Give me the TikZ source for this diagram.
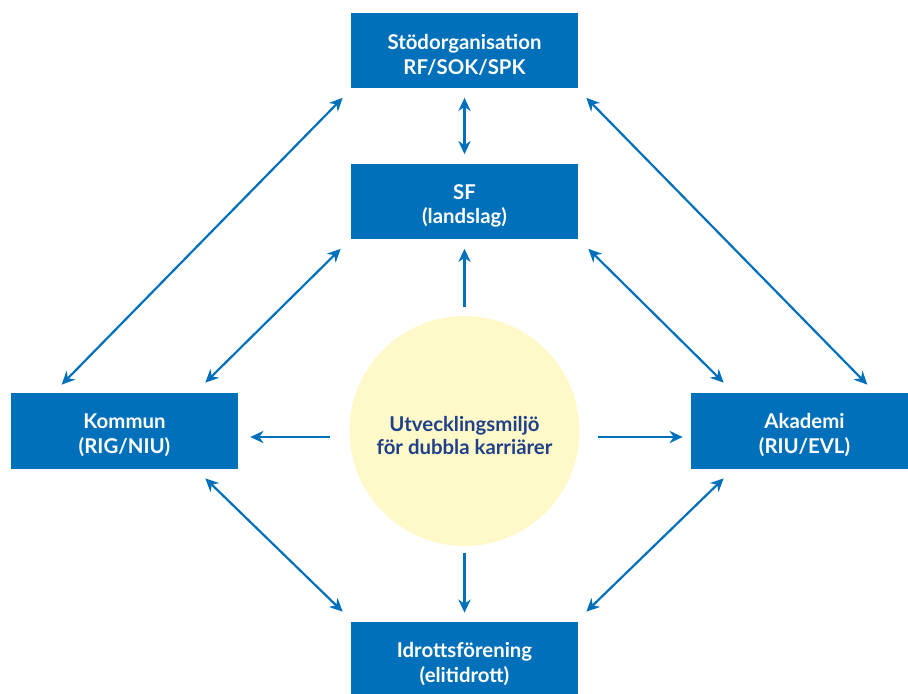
\documentclass[tikz,border=0pt]{standalone}
\usepackage{fontspec}
\setmainfont{Lato}
\usetikzlibrary{shapes,arrows.meta}

\definecolor{boxblue}{RGB}{0,112,186}
\definecolor{sunfill}{RGB}{255,248,200}
\definecolor{darkblue}{RGB}{31,64,138}
\newcommand\liftline{\rule{0pt}{13.5pt}}

\begin{document}
\begin{tikzpicture}[x=0.02cm, y=-0.02cm,
    part/.style={rectangle, fill=boxblue, text=white, inner sep=0pt,
        minimum width=4.54cm, minimum height=1.52cm, align=center,
        font=\bfseries\fontsize{11.6}{14.2}\selectfont},
    both/.style={{Stealth[length=7.5pt,width=7pt,inset=2.4pt]}-{Stealth[length=7.5pt,width=7pt,inset=2.4pt]},
        draw=boxblue, line width=1.25pt},
    one/.style={-{Stealth[length=7.5pt,width=7pt,inset=2.4pt]}, draw=boxblue, line width=1.25pt}]
    \useasboundingbox (0,0) rectangle (908,693);
    \clip (0,0) rectangle (908,693);

    %% nodes
    \node[part] (stod) at (464.5,50.5) {\liftline Stödorganisation\\RF/SOK/SPK};
    \node[part] (sf) at (464.5,201.5) {\liftline SF\\(landslag)};
    \node[part] (kommun) at (124.5,431) {\liftline Kommun\\(RIG/NIU)};
    \node[part] (akademi) at (804.5,431) {\liftline Akademi\\(RIU/EVL)};
    \node[part] (idrott) at (464.5,660) {\liftline Idrottsförening\\(elitidrott)};

    \node[circle, fill=sunfill, minimum size=4.6cm, inner sep=0pt, align=center,
        text=darkblue, font=\bfseries\fontsize{11.6}{13}\selectfont]
        (miljo) at (464.5,431) {\liftline Utvecklingsmiljö\\för dubbla karriärer};

    %% from the centre
    \draw[one] ([shift={(0,-9)}]miljo.north) -- ([shift={(0,9)}]sf.south);
    \draw[one] ([shift={(0,7)}]miljo.south) -- ([shift={(0,-9)}]idrott.north);
    \draw[one] ([shift={(-19,6)}]miljo.west) -- ([shift={(12,6)}]kommun.east);
    \draw[one] ([shift={(18,6)}]miljo.east) -- ([shift={(-8,6)}]akademi.west);

    %% between the parts
    \draw[both] ([shift={(0,9)}]stod.south) -- ([shift={(0,-9)}]sf.north);
    \draw[both] ([shift={(-8,9)}]stod.south west) -- ([shift={(51,-8)}]kommun.north west);
    \draw[both] ([shift={(8,9)}]stod.south east) -- ([shift={(-51,-8)}]akademi.north east);
    \draw[both] ([shift={(-10,9)}]sf.south west) -- ([shift={(-33,-10)}]kommun.north east);
    \draw[both] ([shift={(10,9)}]sf.south east) -- ([shift={(33,-10)}]akademi.north west);
    \draw[both] ([shift={(-33,9)}]kommun.south east) -- ([shift={(-8,-10)}]idrott.north west);
    \draw[both] ([shift={(33,9)}]akademi.south west) -- ([shift={(8,-10)}]idrott.north east);
\end{tikzpicture}
\end{document}
